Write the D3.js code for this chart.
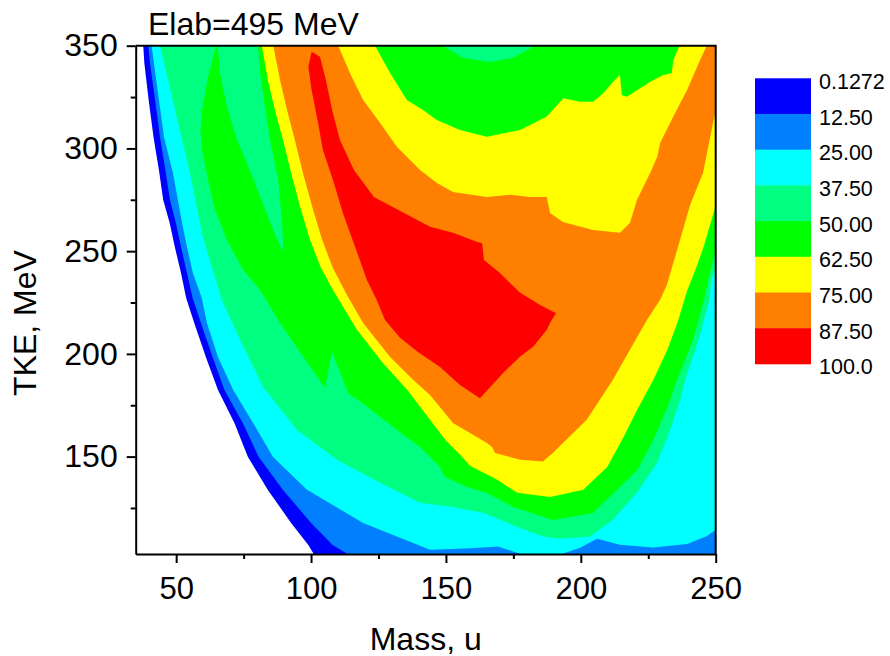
<!DOCTYPE html>
<html><head><meta charset="utf-8">
<script src="https://cdn.jsdelivr.net/npm/d3@7"></script>
<style>
body{margin:0;background:#fff}
text{font-family:"Liberation Sans",Arial,sans-serif;fill:#000}
</style>
</head><body>
<svg id="c" width="890" height="656"></svg>
<script>
// ---- data ----
const levelLabels = ["0.1272","12.50","25.00","37.50","50.00","62.50","75.00","87.50","100.0"];
const levelColors = ["#0000FF","#0080FF","#00FFFF","#00FF80","#00FF00","#FFFF00","#FF8000","#FF0000"];
const xTicks = [50,100,150,200,250];
const xMinor = [75,125,175,225];
const yTicks = [150,200,250,300,350];
const yMinor = [125,175,225,275,325];
const massRange = [35,250];
const tkeRange = [102.6,350];

// contour regions, [mass u, TKE MeV], value >= level
const regionL1 = [[37.8,350],[38.2,341.6],[39.8,323.6],[41.6,305.6],[43.6,289.5],[45.2,274.9],[47.6,263.7],[49.5,252.0],[51.8,239.4],[53.7,227.2],[56.7,215.0],[61.0,198.5],[65.5,182.4],[71.6,166.4],[76.6,149.8],[84.0,133.8],[92.6,117.7],[99.0,107.0],[101.0,102.6],[250,102.6],[250,350]];
const regionL2 = [[39.7,350],[40.3,341.6],[42.2,323.6],[44.0,305.6],[46.0,289.5],[47.7,274.9],[49.9,263.7],[51.8,252.0],[54.0,239.4],[56.1,227.2],[59.2,215.0],[63.5,198.5],[67.9,182.4],[74.7,166.4],[80.6,149.8],[89.6,133.8],[100.0,117.7],[108.0,107.0],[113.5,102.6],[250,102.6],[250,350]];
const regionL3 = [[40.9,350],[43.6,323.6],[45.5,305.6],[48.8,288.1],[52.2,263.7],[54.0,252.0],[56.2,239.4],[59.5,227.2],[61.4,215.0],[65.5,198.5],[71.1,182.5],[78.5,166.4],[85.9,149.8],[98.5,133.9],[119.3,117.7],[144.1,104.7],[158.9,105.4],[169.3,106.3],[177.8,102.6],[193.0,102.6],[199.7,105.6],[206.0,110.0],[214.5,107.1],[226.8,105.8],[239.4,107.5],[246.8,111.4],[250,114.4],[250,350]];
const regionL4 = [[44.0,350],[49.6,318.7],[55.1,288.1],[59.9,256.8],[66.9,226.3],[73.7,206.8],[82.2,183.9],[94.8,163.0],[109.6,148.5],[125.6,137.3],[140.4,127.5],[151.5,125.7],[163.7,122.7],[176.3,115.9],[186.0,111.1],[192.3,110.0],[203.4,111.1],[211.9,119.3],[220.8,132.4],[228.3,147.0],[233.1,163.0],[236.8,177.6],[238.7,187.4],[243.6,206.8],[247.7,226.3],[248.3,236.0],[250,241.8],[250,350]];
const regionL5 = [[64.8,350],[61.8,334.8],[59.6,318.7],[59.0,309.0],[59.6,299.2],[61.8,284.7],[64.4,270.1],[68.8,255.5],[74.8,240.9],[81.1,231.1],[88.5,215.0],[95.9,200.9],[105.2,183.4],[107.7,201.1],[110.8,190.9],[113.7,180.8],[119.3,175.9],[131.9,163.0],[140.4,154.7],[147.8,145.0],[149.7,140.1],[157.8,135.2],[165.2,132.3],[174.9,125.5],[189.7,119.2],[204.5,122.6],[214.5,135.2],[220.9,143.5],[226.9,158.2],[232.1,174.2],[235.7,187.4],[241.6,206.8],[245.7,226.3],[247.2,236.0],[250,250.6],[250,350]];
const holeWedgeL4 = [[65.5,350],[80.4,350],[81.1,336.7],[82.9,320.3],[84.8,304.1],[87.8,284.7],[89.3,263.7],[89.7,249.8],[87.4,255.5],[82.6,271.5],[77.7,288.1],[72.6,304.1],[68.8,320.2],[66.2,336.7],[65.5,347.9]];
const holeTopL4 = [[148.9,350],[156.3,344.0],[166.3,342.1],[174.8,344.0],[183.0,350]];
const regionL6 = [[81.7,350],[84.0,333.3],[86.6,318.7],[89.6,304.1],[92.6,288.1],[95.9,271.7],[99.6,255.5],[103.7,241.8],[108.1,231.1],[117.0,211.7],[126.6,195.6],[135.6,182.5],[144.1,167.9],[149.7,158.2],[156.3,149.4],[158.9,145.5],[169.0,138.7],[176.4,132.4],[188.6,130.4],[200.9,133.9],[209.8,145.0],[215.7,159.2],[220.9,172.8],[226.9,187.4],[232.1,202.0],[235.8,215.1],[239.5,231.1],[242.5,240.9],[245.5,252.0],[249.2,268.6],[250,272.5],[250,350],[236.6,350],[234.3,343.0],[233.7,336.6],[230.6,335.7],[225.7,332.5],[222.0,329.3],[217.0,325.2],[215.2,326.0],[214.5,335.7],[212.0,332.5],[208.3,326.8],[204.6,322.7],[199.7,322.7],[193.5,324.4],[187.4,315.5],[177.5,309.0],[165.1,305.7],[155.2,309.0],[146.6,313.8],[141.5,318.7],[135.5,323.6],[129.3,336.7],[123.7,350]];
const regionL7 = [[86.0,350],[88.5,333.3],[91.1,318.7],[94.0,304.1],[97.0,288.1],[100.4,271.7],[104.1,255.5],[108.1,241.8],[113.3,228.7],[119.3,215.0],[129.3,198.5],[137.8,187.4],[144.1,180.0],[152.6,166.4],[165.2,156.6],[167.1,154.7],[168.2,151.8],[177.5,148.5],[186.0,147.6],[189.6,151.8],[202.2,167.9],[211.9,187.4],[218.2,202.0],[224.5,216.5],[229.4,226.3],[231.9,233.6],[235.7,250.6],[240.5,272.5],[245.3,288.1],[249.0,312.4],[250,318.7],[250,350],[246.7,350],[244.2,343.0],[239.4,328.4],[234.2,315.3],[229.4,302.7],[228.3,295.8],[225.7,288.1],[220.8,274.9],[218.2,263.7],[214.5,258.9],[204.5,260.3],[193.4,264.2],[188.6,268.6],[187.8,273.5],[187.4,276.4],[181.2,276.4],[173.8,277.4],[165.2,276.4],[152.6,278.8],[146.7,283.2],[140.4,289.5],[137.8,292.9],[131.9,300.7],[125.6,312.4],[119.3,323.6],[114.4,336.7],[110.1,350]];
const regionL8 = [[100.2,347.1],[103.3,344.6],[105.5,333.3],[107.8,318.7],[110.7,304.1],[115.9,289.5],[123.3,276.4],[132.2,270.1],[144.1,261.9],[152.6,258.9],[161.4,254.6],[163.4,253.8],[164.1,245.7],[170.0,239.4],[177.5,229.7],[184.9,223.8],[190.8,219.8],[188.6,215.1],[187.4,211.7],[182.3,203.5],[177.5,198.7],[171.2,190.7],[162.6,178.4],[155.2,184.9],[147.8,193.6],[139.6,200.9],[133.0,207.8],[127.4,216.5],[124.3,226.3],[120.7,236.0],[116.3,252.2],[111.8,268.6],[108.1,284.7],[104.4,299.2],[102.6,312.4],[100.2,328.4],[99.0,339.8]];

// draw order: [level index, region]
const drawOrder = [
  [0, regionL1],[1, regionL2],[2, regionL3],[3, regionL4],[4, regionL5],
  [3, holeWedgeL4],[3, holeTopL4],[5, regionL6],[6, regionL7],[7, regionL8]
];

// ---- chart ----
const svg = d3.select("#c");
const x = d3.scaleLinear().domain(massRange).range([135.7,715.7]);
const y = d3.scaleLinear().domain(tkeRange).range([554,45.7]);

svg.append("rect").attr("width",890).attr("height",656).attr("fill","#fff");

svg.append("defs").append("clipPath").attr("id","plot")
  .append("rect").attr("x",x(massRange[0])).attr("y",y(tkeRange[1]))
  .attr("width",x(massRange[1])-x(massRange[0])).attr("height",y(tkeRange[0])-y(tkeRange[1]));

const plot = svg.append("g").attr("clip-path","url(#plot)");
const line = d3.line().x(d=>x(d[0])).y(d=>y(d[1]));
drawOrder.forEach(([lv, pts]) => {
  plot.append("path").attr("d", line(pts)+"Z").attr("fill", levelColors[lv]);
});

function styleAxis(g, fs){
  g.attr("font-family",null).attr("font-size",null);
  g.selectAll("path,line").attr("stroke","#000").attr("stroke-width",2);
  g.selectAll("text").attr("fill","#000").style("font-size",fs+"px");
}

// x axis
const gx = svg.append("g").attr("transform",`translate(0,${y(tkeRange[0])})`)
  .call(d3.axisBottom(x).tickValues(xTicks).tickSize(9).tickSizeOuter(0).tickPadding(14).tickFormat(d3.format("d")));
styleAxis(gx, 31);
const gxm = svg.append("g").attr("transform",`translate(0,${y(tkeRange[0])})`)
  .call(d3.axisBottom(x).tickValues(xMinor).tickSize(5).tickSizeOuter(0).tickFormat(""));
gxm.select(".domain").remove();
styleAxis(gxm, 31);

// y axis
const gy = svg.append("g").attr("transform",`translate(${x(massRange[0])},0)`)
  .call(d3.axisLeft(y).tickValues(yTicks).tickSize(9).tickSizeOuter(0).tickPadding(9).tickFormat(d3.format("d")));
styleAxis(gy, 32);
const gym = svg.append("g").attr("transform",`translate(${x(massRange[0])},0)`)
  .call(d3.axisLeft(y).tickValues(yMinor).tickSize(5).tickSizeOuter(0).tickFormat(""));
gym.select(".domain").remove();
styleAxis(gym, 32);

// frame top/right
svg.append("path")
  .attr("d",`M${x(massRange[0])},${y(tkeRange[1])}H${x(massRange[1])}V${y(tkeRange[0])}`)
  .attr("fill","none").attr("stroke","#000").attr("stroke-width",2);

// titles
svg.append("text").attr("x",148).attr("y",34.5).style("font-size","32px").text("Elab=495 MeV");
svg.append("text").attr("x",(x(massRange[0])+x(massRange[1]))/2).attr("y",650)
  .attr("text-anchor","middle").style("font-size","32px").text("Mass, u");
svg.append("text").attr("transform","translate(36,323) rotate(-90)")
  .attr("text-anchor","middle").style("font-size","32px").text("TKE, MeV");

// legend
const legX = 755, legY = 78.3, legW = 56, legH = 35.7;
const leg = svg.append("g");
levelColors.forEach((c,i) => {
  leg.append("rect").attr("x",legX).attr("y",legY+i*legH).attr("width",legW).attr("height",legH+0.4).attr("fill",c);
});
levelLabels.forEach((t,i) => {
  leg.append("text").attr("x",819).attr("y",legY+i*legH+10.5).style("font-size","21.5px").text(t);
});
</script>
</body></html>
